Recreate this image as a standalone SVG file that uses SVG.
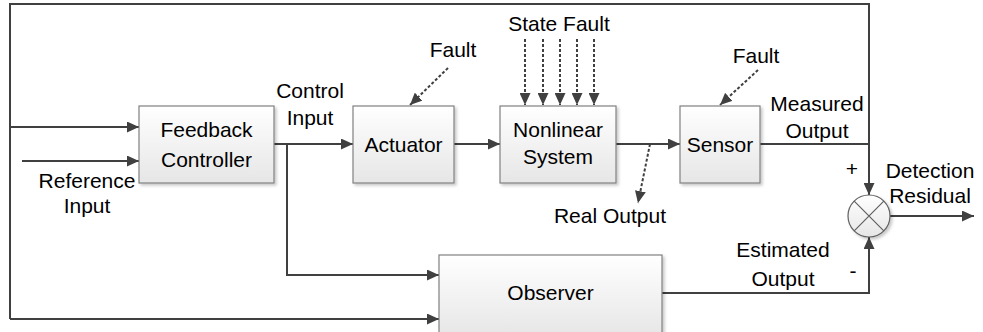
<svg xmlns="http://www.w3.org/2000/svg" width="983" height="332" viewBox="0 0 983 332">
  <defs>
    <linearGradient id="boxFill" x1="0" y1="0" x2="0" y2="1">
      <stop offset="0" stop-color="#ffffff"/>
      <stop offset="1" stop-color="#e6e6e6"/>
    </linearGradient>
    <filter id="shadow" x="-10%" y="-10%" width="125%" height="130%">
      <feDropShadow dx="2" dy="2" stdDeviation="1.5" flood-color="#000" flood-opacity="0.22"/>
    </filter>
    <marker id="arrow" viewBox="0 0 10 10" refX="10" refY="5" markerWidth="12" markerHeight="11" markerUnits="userSpaceOnUse" orient="auto" preserveAspectRatio="none">
      <path d="M0,0 L10,5 L0,10 Z" fill="#404040"/>
    </marker>
    <marker id="arrowD" viewBox="0 0 10 10" refX="10" refY="5" markerWidth="12" markerHeight="11" markerUnits="userSpaceOnUse" orient="auto" preserveAspectRatio="none">
      <path d="M0,0 L10,5 L0,10 Z" fill="#404040"/>
    </marker>
  </defs>
  <style>
    .box { fill: url(#boxFill); stroke: #808080; stroke-width: 1.2; filter: url(#shadow); }
    .line { fill: none; stroke: #404040; stroke-width: 2; }
    .arr { marker-end: url(#arrow); }
    .dash { fill: none; stroke: #404040; stroke-width: 2; stroke-dasharray: 3 2; marker-end: url(#arrowD); }
    text { font-family: "Liberation Sans", Arial, sans-serif; font-size: 21px; fill: #000; text-anchor: middle; }
  </style>

  <rect width="983" height="332" fill="#ffffff"/>

  <!-- connectors -->
  <g id="connectors">
    <!-- outer feedback frame -->
    <polyline class="line" points="869,144 869,4 10,4 10,319"/>
    <path class="line arr" d="M10,127 H139"/>
    <path class="line arr" d="M10,319 H439"/>
    <path class="line arr" d="M22,161 H139"/>
    <!-- control input -->
    <path class="line arr" d="M274,144 H353"/>
    <path class="line arr" d="M287,144 V275 H439"/>
    <path class="line arr" d="M454,144 H500"/>
    <path class="line arr" d="M616,144 H680"/>
    <!-- measured output to comparator -->
    <path class="line arr" d="M760,144 H869 V195"/>
    <!-- estimated output to comparator -->
    <path class="line arr" d="M662,293 H869 V237"/>
    <!-- residual -->
    <path class="line arr" d="M890,216 H974"/>
    <!-- fault injections -->
    <path class="dash" d="M448,68 L410,105"/>
    <path class="dash" d="M758,70 L720,105"/>
    <path class="dash" d="M525,39 V105"/>
    <path class="dash" d="M543,39 V105"/>
    <path class="dash" d="M560,39 V105"/>
    <path class="dash" d="M577,39 V105"/>
    <path class="dash" d="M594,39 V105"/>
    <path class="dash" d="M650,144 L638,203"/>
  </g>

  <!-- nodes -->
  <g id="feedback-controller">
    <rect class="box" x="139" y="106" width="135" height="77"/>
    <text x="206.5" y="137">Feedback</text>
    <text x="206.5" y="167">Controller</text>
  </g>
  <g id="actuator">
    <rect class="box" x="353" y="106" width="101" height="77"/>
    <text x="403.5" y="152">Actuator</text>
  </g>
  <g id="nonlinear-system">
    <rect class="box" x="500" y="106" width="116" height="77"/>
    <text x="558" y="137">Nonlinear</text>
    <text x="558" y="164">System</text>
  </g>
  <g id="sensor">
    <rect class="box" x="680" y="106" width="80" height="77"/>
    <text x="720" y="152">Sensor</text>
  </g>
  <g id="observer">
    <rect class="box" x="439" y="255" width="223" height="82"/>
    <text x="550.5" y="300">Observer</text>
  </g>
  <g id="comparator">
    <circle cx="869" cy="216" r="21" fill="url(#boxFill)" stroke="#606060" stroke-width="1.2" filter="url(#shadow)"/>
    <path d="M854.2,201.2 L883.8,230.8 M883.8,201.2 L854.2,230.8" stroke="#606060" stroke-width="1.2"/>
  </g>

  <!-- labels -->
  <g id="labels">
    <text x="87" y="188">Reference</text>
    <text x="87" y="213">Input</text>
    <text x="310" y="98">Control</text>
    <text x="310" y="125">Input</text>
    <text x="453" y="57">Fault</text>
    <text x="559" y="31">State Fault</text>
    <text x="756" y="63">Fault</text>
    <text x="610" y="223">Real Output</text>
    <text x="817" y="111">Measured</text>
    <text x="817" y="138">Output</text>
    <text x="852" y="176">+</text>
    <text x="930" y="178">Detection</text>
    <text x="930" y="203">Residual</text>
    <text x="783" y="257">Estimated</text>
    <text x="783" y="286">Output</text>
    <text x="853" y="278">-</text>
  </g>
</svg>
